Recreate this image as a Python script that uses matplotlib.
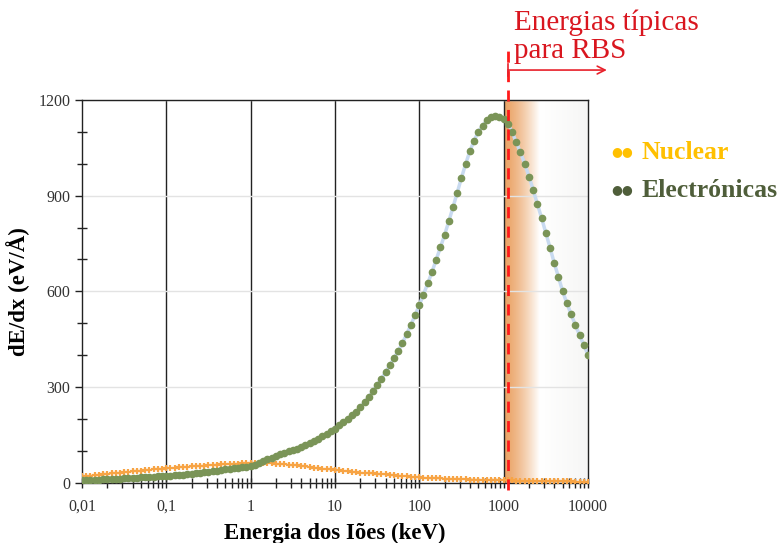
import numpy as np
import matplotlib
matplotlib.use("Agg")
import matplotlib.pyplot as plt
from matplotlib.ticker import FixedLocator, NullFormatter, MultipleLocator
from matplotlib.lines import Line2D
import matplotlib.transforms as mtransforms

plt.rcParams['font.family'] = ['Liberation Serif', 'DejaVu Serif']

# energy grid (keV), 20 points per decade
mantissa = [1.00, 1.12, 1.26, 1.41, 1.58, 1.78, 2.00, 2.24, 2.51, 2.82,
            3.16, 3.55, 3.98, 4.47, 5.01, 5.62, 6.31, 7.08, 7.94, 8.91]
decades = [0.01, 0.1, 1, 10, 100, 1000]
energy = [m * d for d in decades for m in mantissa] + [10000]

# electronic stopping (eV/A)
electronic = [8, 8.5, 9, 9.5, 10, 10.5, 11, 12, 12.5, 13,
              14, 14.5, 15, 16, 17, 17.5, 18, 19, 20, 20.5,
              21, 22, 23, 24, 25.5, 26.5, 28, 29, 31, 33,
              35, 36.5, 38, 40, 41.5, 43, 45, 46.5, 48, 50,
              52, 57, 62, 67, 73, 79, 84, 89, 93, 98,
              102, 107, 112, 117, 123, 130, 137, 145, 153, 161,
              170, 180, 190, 200, 211, 222, 236, 252, 269, 287,
              306, 326, 346, 368, 390, 413, 438, 466, 495, 525,
              557, 590, 625, 660, 698, 738, 778, 820, 864, 910,
              956, 1000, 1040, 1073, 1100, 1120, 1136, 1146, 1150, 1148,
              1140, 1126, 1100, 1068, 1036, 1000, 960, 918, 874, 830,
              784, 737, 689, 645, 600, 563, 528, 495, 463, 432,
              402]

# nuclear stopping (eV/A)
nuclear = [20, 21, 22.5, 24, 25, 26, 27.5, 29, 30, 31.5,
           33, 34, 35.5, 37, 38, 39, 40.5, 42, 43, 44,
           45, 46, 47, 48, 49, 50, 51, 52, 53, 54,
           55, 56, 57, 57.5, 58, 59, 59.5, 60, 60.5, 61,
           61.5, 62, 62, 62, 61.5, 61, 60, 59, 58, 57,
           56, 54.5, 53, 51, 49, 47.5, 46, 44.5, 43, 41.5,
           40, 38.5, 37, 35.5, 34, 33, 32, 31, 30, 29,
           28, 27, 26, 25, 24, 22.5, 21, 20, 19, 17.5,
           16.5, 16, 15.5, 15, 14, 13.5, 13, 12.5, 12, 11.5,
           11, 10.5, 10, 10, 9.5, 9, 9, 8.5, 8, 8,
           7.5, 7, 7, 6.5, 6.5, 6, 6, 5.5, 5.5, 5,
           5, 5, 4.5, 4.5, 4, 4, 4, 3.5, 3.5, 3,
           3]

x_ticks = [0.01, 0.1, 1, 10, 100, 1000, 10000]
x_labels = ["0,01", "0,1", "1", "10", "100", "1000", "10000"]
y_ticks = [0, 300, 600, 900, 1200]
rbs_start = 1120

fig = plt.figure(figsize=(7.8, 5.43), dpi=100)
ax = fig.add_axes([0.1051, 0.111, 0.6487, 0.7048])

ax.set_xscale("log")
ax.set_xlim(0.01, 10000)
ax.set_ylim(0, 1200)

# shaded RBS region (gradient)
grad = ax.inset_axes([5 / 6, 0, 1 / 6, 1], zorder=0.6)
g = np.linspace(0, 1, 300)
c0 = np.array([0.92, 0.64, 0.40])
c1 = np.array([1.0, 1.0, 1.0])
c2 = np.array([0.965, 0.965, 0.96])
cols = []
for t in g:
    if t < 0.42:
        s = (t / 0.42) ** 1.4
        cols.append(c0 * (1 - s) + c1 * s)
    else:
        s = (t - 0.42) / 0.58
        cols.append(c1 * (1 - s) + c2 * s)
grad.imshow(np.array(cols)[None, :, :], aspect="auto", extent=[0, 1, 0, 1])
grad.set_axis_off()

ax.grid(axis="y", color="#e3e3e3", lw=1)
for xt in x_ticks[1:-1]:
    ax.axvline(xt, color="#222222", lw=1, zorder=1)

ax.plot(energy, electronic, color="#c8daf0", lw=2.5, zorder=2)
ax.plot(energy, nuclear, color="#f7a445", lw=1, zorder=2)
ax.plot(energy, nuclear, ls="none", marker="+", ms=4, mew=1.6,
        color="#f7a445", zorder=3)
ax.plot(energy, electronic, ls="none", marker="o", ms=4.5,
        color="#7a9457", mec="#7a9457", zorder=4)

ax.xaxis.set_major_locator(FixedLocator(x_ticks))
ax.set_xticklabels(x_labels)
minors = [m * d for d in decades for m in range(2, 10)]
ax.xaxis.set_minor_locator(FixedLocator(minors))
ax.xaxis.set_minor_formatter(NullFormatter())
ax.yaxis.set_major_locator(FixedLocator(y_ticks))
ax.yaxis.set_minor_locator(MultipleLocator(100))
ax.tick_params(which="both", direction="inout", length=7, width=1,
               color="#222222", labelsize=11.5, labelcolor="#333333")
ax.tick_params(axis="y", which="major", direction="out", length=5)
ax.tick_params(axis="x", which="major", pad=8)
for sp in ax.spines.values():
    sp.set_color("#222222")
    sp.set_linewidth(1)

ax.set_xlabel("Energia dos Iões (keV)", fontsize=16.5, fontweight="bold", labelpad=6)
ax.set_ylabel("dE/dx (eV/Å)", fontsize=16.5, fontweight="bold", labelpad=6)

# RBS marker
trans = mtransforms.blended_transform_factory(ax.transData, ax.transAxes)
ax.plot([rbs_start, rbs_start], [-0.02, 1.13], transform=trans, color="#ff1a1a",
        ls=(0, (4, 3)), lw=2, clip_on=False, zorder=6)
ax.annotate("", xy=(0.778, 0.871), xytext=(0.651, 0.871), xycoords="figure fraction",
            arrowprops=dict(arrowstyle="->", color="#e8202a", lw=1.2,
                            mutation_scale=14, shrinkA=0, shrinkB=0))
fig.add_artist(Line2D([0.651, 0.651], [0.86, 0.882], color="#e8202a", lw=1.2))
fig.text(0.659, 0.932, "Energias típicas\npara RBS", color="#d9161f", fontsize=21,
         ha="left", va="center", linespacing=1.08)

# legend
fig.text(0.784, 0.72, "●●", color="#ffc000", fontsize=9, va="center",
         family="DejaVu Sans")
fig.text(0.822, 0.72, "Nuclear", color="#ffc000", fontsize=18.5, fontweight="bold",
         va="center")
fig.text(0.784, 0.65, "●●", color="#4f5e3a", fontsize=9, va="center",
         family="DejaVu Sans")
fig.text(0.822, 0.65, "Electrónicas", color="#4f5e3a", fontsize=18.5, fontweight="bold",
         va="center")

fig.savefig("out.png", dpi=100)
